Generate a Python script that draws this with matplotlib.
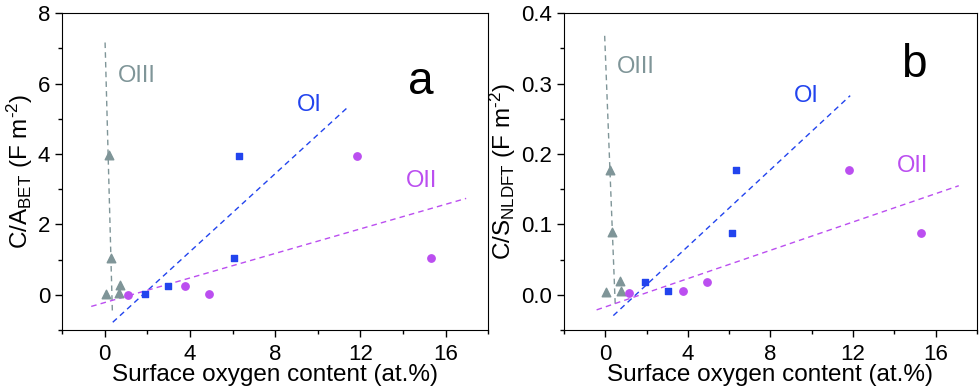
import numpy as np
import matplotlib
matplotlib.use("Agg")
import matplotlib.pyplot as plt
from matplotlib.ticker import MultipleLocator

plt.rcParams['font.family'] = ['Liberation Sans', 'DejaVu Sans']
plt.rcParams['mathtext.fontset'] = 'custom'
plt.rcParams['mathtext.rm'] = 'Liberation Sans'
plt.rcParams['mathtext.it'] = 'Liberation Sans:italic'

# panel a: C/A_BET
a_tri_x = [0.05, 0.19, 0.30, 0.70, 0.69]
a_tri_y = [0.02, 3.96, 1.05, 0.28, 0.05]
a_sq_x = [1.88, 2.99, 6.09, 6.28]
a_sq_y = [0.02, 0.25, 1.04, 3.94]
a_ci_x = [1.08, 3.76, 4.90, 11.82, 15.30]
a_ci_y = [0.00, 0.25, 0.03, 3.94, 1.04]
a_fit_oiii = ([0.02, 0.36], [7.17, -0.45])
a_fit_oi = ([0.38, 11.46], [-0.78, 5.36])
a_fit_oii = ([-0.63, 16.96], [-0.33, 2.74])

# panel b: C/S_NLDFT
b_tri_x = [0.05, 0.23, 0.34, 0.73, 0.74]
b_tri_y = [0.004, 0.178, 0.089, 0.0195, 0.006]
b_sq_x = [1.91, 3.02, 6.12, 6.32]
b_sq_y = [0.018, 0.005, 0.088, 0.177]
b_ci_x = [1.13, 3.78, 4.91, 11.81, 15.31]
b_ci_y = [0.0024, 0.005, 0.018, 0.177, 0.088]
b_fit_oiii = ([-0.03, 0.48], [0.368, -0.013])
b_fit_oi = ([0.39, 11.86], [-0.0295, 0.283])
b_fit_oii = ([-0.42, 17.12], [-0.0214, 0.155])

gray = '#7f9598'
blue = '#2244ee'
magenta = '#bb4ef0'


def drawPanel(ax, tri, sq, ci, fits, ylim, yminor, yticks, ylabel, letter, labelPos):
    fo3, fo1, fo2 = fits
    ax.plot(fo3[0], fo3[1], '--', color=gray, lw=1, dashes=(4, 3))
    ax.plot(fo1[0], fo1[1], '--', color=blue, lw=1, dashes=(4, 3))
    ax.plot(fo2[0], fo2[1], '--', color=magenta, lw=1, dashes=(4, 3))
    ax.scatter(tri[0], tri[1], marker='^', s=38, color=gray, zorder=3)
    ax.scatter(sq[0], sq[1], marker='s', s=22, color=blue, zorder=3)
    ax.scatter(ci[0], ci[1], marker='o', s=28, color=magenta, zorder=3)

    ax.set_xlim(-2, 18)
    ax.set_ylim(*ylim)
    ax.xaxis.set_major_locator(MultipleLocator(4))
    ax.xaxis.set_minor_locator(MultipleLocator(2))
    ax.set_yticks(yticks)
    ax.yaxis.set_minor_locator(MultipleLocator(yminor))
    ax.tick_params(which='major', direction='out', length=5, width=1, labelsize=16)
    ax.tick_params(axis='x', which='major', pad=5)
    ax.tick_params(which='minor', direction='out', length=3, width=1)
    ax.set_xlabel('Surface oxygen content (at.%)', fontsize=17.5, labelpad=-1)
    ax.set_ylabel(ylabel, fontsize=17.5, labelpad=2)

    (x3, y3), (x1, y1), (x2, y2), (xl, yl) = labelPos
    ax.text(x3, y3, 'OIII', color=gray, fontsize=17, ha='center', va='center')
    ax.text(x1, y1, 'OI', color=blue, fontsize=17, ha='center', va='center')
    ax.text(x2, y2, 'OII', color=magenta, fontsize=17, ha='center', va='center')
    ax.text(xl, yl, letter, color='black', fontsize=33, ha='center', va='center')


fig = plt.figure(figsize=(9.8, 3.91), dpi=100)
axA = fig.add_axes([0.0633, 0.156, 0.435, 0.81])
axB = fig.add_axes([0.5755, 0.156, 0.4214, 0.81])

drawPanel(axA, (a_tri_x, a_tri_y), (a_sq_x, a_sq_y), (a_ci_x, a_ci_y),
          (a_fit_oiii, a_fit_oi, a_fit_oii), (-1, 8), 1, [0, 2, 4, 6, 8],
          r'C/A$_\mathregular{BET}$ (F m$^\mathregular{\text{-}2}$)', 'a',
          [(1.52, 6.21), (9.62, 5.38), (14.88, 3.23), (14.85, 6.05)])
drawPanel(axB, (b_tri_x, b_tri_y), (b_sq_x, b_sq_y), (b_ci_x, b_ci_y),
          (b_fit_oiii, b_fit_oi, b_fit_oii), (-0.05, 0.4), 0.05, [0.0, 0.1, 0.2, 0.3, 0.4],
          r'C/S$_\mathregular{NLDFT}$ (F m$^\mathregular{\text{-}2}$)', 'b',
          [(1.5, 0.324), (9.74, 0.283), (14.86, 0.183), (14.94, 0.326)])
axB.set_yticklabels(['0.0', '0.1', '0.2', '0.3', '0.4'])

fig.savefig('out.png', dpi=100)
